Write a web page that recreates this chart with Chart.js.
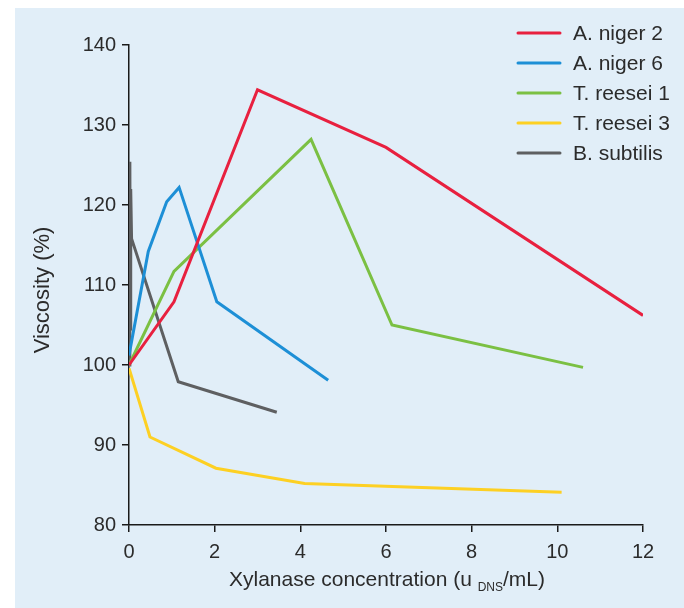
<!DOCTYPE html>
<html>
<head>
<meta charset="utf-8">
<script src="https://cdn.jsdelivr.net/npm/chart.js@4"></script>
<style>
  html, body { margin: 0; padding: 0; background: #ffffff; }
  #wrap { width: 684px; height: 608px; }
</style>
</head>
<body>
<div id="wrap"><canvas id="myChart" width="684" height="608"></canvas></div>
<script>
// series data (x = xylanase concentration, y = viscosity %)
const nigerTwo = [[0, 100], [1.05, 107.9], [3.0, 134.4], [6.0, 127.2], [12.0, 106.2]];
const nigerSix = [[0, 101.2], [0.45, 114.2], [0.88, 120.4], [1.17, 122.2], [2.05, 107.9], [4.65, 98.1]];
const reeseiOne = [[0, 100], [1.05, 111.7], [4.25, 128.2], [6.14, 105], [10.6, 99.7]];
const reeseiThree = [[0, 99.6], [0.49, 91], [2.03, 87.1], [4.1, 85.2], [10.1, 84.1]];
const subtilis = [[0.01, 100], [0.02, 125.4], [0.03, 104.5], [0.04, 122], [0.06, 115.8], [1.15, 97.9], [3.45, 94.1]];

const seriesNames = ['A. niger 2', 'A. niger 6', 'T. reesei 1', 'T. reesei 3', 'B. subtilis'];
const seriesColors = ['#e8203f', '#1d8fd6', '#7bc043', '#fdd023', '#5e5f61'];
const yTicks = [80, 90, 100, 110, 120, 130, 140];
const xTicks = [0, 2, 4, 6, 8, 10, 12];

const toPts = arr => arr.map(p => ({x: p[0], y: p[1]}));
const allSeries = [nigerTwo, nigerSix, reeseiOne, reeseiThree, subtilis];

const FONT = '"Liberation Sans", Arial, sans-serif';

// fond bleu clair du panneau
const panelBg = {
  id: 'panelBg',
  beforeDraw(chart) {
    const ctx = chart.ctx;
    ctx.save();
    ctx.fillStyle = '#e1eef8';
    ctx.fillRect(15, 8, 684 - 15, 608 - 8);
    ctx.restore();
  }
};

// légende dessinée à la main dans le coin haut droit
const cornerLegend = {
  id: 'cornerLegend',
  afterDraw(chart) {
    const ctx = chart.ctx;
    ctx.save();
    ctx.font = '21px ' + FONT;
    ctx.textBaseline = 'middle';
    chart.data.datasets.forEach((ds, i) => {
      const y = 33 + i * 30;
      ctx.strokeStyle = ds.borderColor;
      ctx.lineWidth = 3;
      ctx.lineCap = 'round';
      ctx.beginPath();
      ctx.moveTo(518, y);
      ctx.lineTo(560, y);
      ctx.stroke();
      ctx.fillStyle = '#2b2b2b';
      ctx.fillText(ds.label, 573, y + 1);
    });
    ctx.restore();
  }
};

// titres des axes (avec l'indice DNS)
const axisTitles = {
  id: 'axisTitles',
  afterDraw(chart) {
    const ctx = chart.ctx;
    ctx.save();
    ctx.fillStyle = '#2b2b2b';
    ctx.textBaseline = 'middle';
    // y title
    ctx.save();
    ctx.font = '22px ' + FONT;
    ctx.translate(43, 290);
    ctx.rotate(-Math.PI / 2);
    ctx.textAlign = 'center';
    ctx.fillText('Viscosity (%)', 0, 0);
    ctx.restore();
    // x title
    const a = 'Xylanase concentration (u ';
    const sub = 'DNS';
    const b = '/mL)';
    const big = '21px ' + FONT, small = '12px ' + FONT;
    ctx.font = big;
    const wa = ctx.measureText(a).width, wb = ctx.measureText(b).width;
    ctx.font = small;
    const ws = ctx.measureText(sub).width;
    let x = 387 - (wa + ws + wb) / 2;
    const y = 580;
    ctx.textAlign = 'left';
    ctx.font = big; ctx.fillText(a, x, y); x += wa;
    ctx.font = small; ctx.fillText(sub, x, y + 8); x += ws;
    ctx.font = big; ctx.fillText(b, x, y);
    ctx.restore();
  }
};

new Chart(
  document.getElementById('myChart'),
  {
    type: 'line',
    data: {
      datasets: allSeries.map((s, i) => ({
        label: seriesNames[i],
        data: toPts(s),
        borderColor: seriesColors[i],
        backgroundColor: seriesColors[i],
        borderWidth: 3,
        pointRadius: 0,
        tension: 0,
        fill: false
      }))
    },
    options: {
      responsive: false,
      animation: false,
      layout: { padding: { left: 0, right: 41, top: 45, bottom: 0 } },
      scales: {
        x: {
          type: 'linear',
          min: 0,
          max: 12,
          afterFit: s => { s.height = 83; },
          afterBuildTicks: s => { s.ticks = xTicks.map(v => ({value: v})); },
          border: { display: true, color: '#1a1a1a', width: 1.5 },
          grid: { drawOnChartArea: false, drawTicks: true, tickLength: 7, color: '#1a1a1a', lineWidth: 1.5 },
          ticks: { color: '#2b2b2b', padding: 8, maxRotation: 0, font: { family: FONT, size: 20 } }
        },
        y: {
          type: 'linear',
          min: 80,
          max: 140,
          afterFit: s => { s.width = 129; },
          afterBuildTicks: s => { s.ticks = yTicks.map(v => ({value: v})); },
          border: { display: true, color: '#1a1a1a', width: 1.5 },
          grid: { drawOnChartArea: false, drawTicks: true, tickLength: 7, color: '#1a1a1a', lineWidth: 1.5 },
          ticks: { color: '#2b2b2b', padding: 6, font: { family: FONT, size: 20 } }
        }
      },
      plugins: {
        legend: { display: false },
        tooltip: { enabled: false }
      }
    },
    plugins: [panelBg, cornerLegend, axisTitles]
  }
);
</script>
</body>
</html>
